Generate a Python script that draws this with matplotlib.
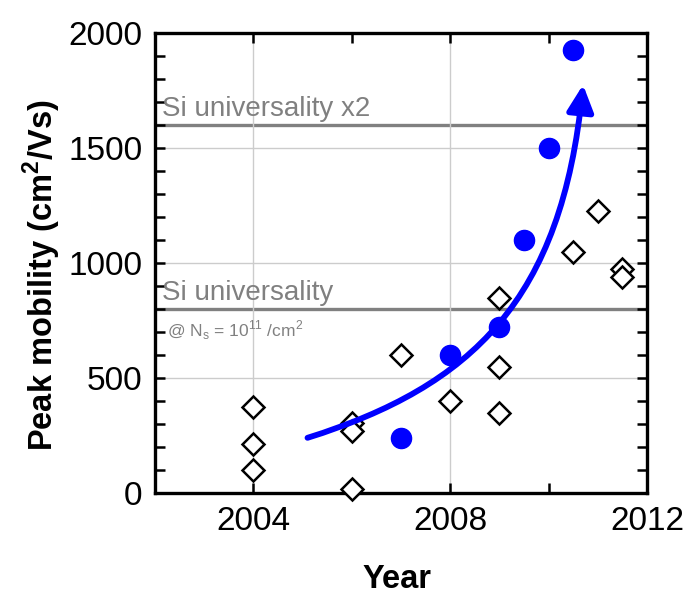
import matplotlib
matplotlib.use("Agg")
import matplotlib.pyplot as plt
from matplotlib.path import Path
from matplotlib.patches import FancyArrowPatch
from matplotlib.ticker import MultipleLocator

plt.rcParams['font.family'] = ['Liberation Sans', 'DejaVu Sans']
plt.rcParams['mathtext.fontset'] = 'custom'
plt.rcParams['mathtext.rm'] = 'Liberation Sans'
plt.rcParams['mathtext.bf'] = 'Liberation Sans:bold'

# filled blue circles
blue_years = [2007, 2008, 2009, 2009.5, 2010, 2010.5]
blue_mob = [240, 600, 720, 1100, 1500, 1925]

# open diamonds
open_years = [2004, 2004, 2004, 2006, 2006, 2006, 2007, 2008,
              2009, 2009, 2009, 2010.5, 2011, 2011.5, 2011.5]
open_mob = [375, 215, 100, 305, 270, 18, 600, 400,
            850, 548, 350, 1048, 1228, 972, 938]

# reference lines
si_levels = [800, 1600]
si_labels = ["Si universality", "Si universality x2"]

# trend arrow (cubic bezier control points, year / mobility)
trend_x = [2005.1, 2008.45, 2010.27, 2010.7]
trend_y = [240, 465, 840, 1775]

fig = plt.figure(figsize=(6.87, 5.95), dpi=100)
ax = fig.add_axes([0.2256, 0.1714, 0.7162, 0.7731])

ax.set_xlim(2002, 2012)
ax.set_ylim(0, 2000)
ax.xaxis.set_major_locator(MultipleLocator(4))
ax.xaxis.set_minor_locator(MultipleLocator(2))
ax.yaxis.set_major_locator(MultipleLocator(500))
ax.yaxis.set_minor_locator(MultipleLocator(100))
ax.grid(True, which='major', color='#cccccc', lw=1.0, zorder=0)

for lev in si_levels:
    ax.axhline(lev, color='#808080', lw=2.4, zorder=1)

ax.text(2002.15, 1600 + 40, si_labels[1], fontsize=20, color='#808080', va='baseline', ha='left')
ax.text(2002.15, 800 + 40, si_labels[0], fontsize=20, color='#808080', va='baseline', ha='left')
ax.text(2002.25, 683, r'@ N$_\mathregular{s}$ = 10$^\mathregular{11}$ /cm$^\mathregular{2}$',
        fontsize=12.5, color='#808080', va='baseline', ha='left')

ax.plot(open_years, open_mob, linestyle='none', marker='D', ms=11.5, mfc='white',
        mec='black', mew=1.8, zorder=3, clip_on=False)
ax.plot(blue_years, blue_mob, linestyle='none', marker='o', ms=14.5, color='#0000ff',
        zorder=4, clip_on=False)

trend = Path(list(zip(trend_x, trend_y)),
             [Path.MOVETO, Path.CURVE4, Path.CURVE4, Path.CURVE4])
arrow = FancyArrowPatch(path=trend, arrowstyle='-|>,head_length=0.8,head_width=0.4',
                        mutation_scale=20, color='#0000ff', lw=4.2, zorder=5,
                        shrinkA=0, shrinkB=0)
ax.add_patch(arrow)

ax.tick_params(which='both', direction='in', top=True, right=True, width=1.8,
               length=7, labelsize=24, pad=9)
for sp in ax.spines.values():
    sp.set_linewidth(2.4)

fig.text(42 / 687, 1 - 275 / 595, r'Peak mobility (cm$^\mathregular{2}$/Vs)',
         rotation=90, fontsize=23.5, fontweight='bold', ha='center', va='center')
fig.text(397 / 687, 1 - 579 / 595, 'Year', fontsize=23.5, fontweight='bold',
         ha='center', va='center')

fig.savefig('out.png', dpi=100)
